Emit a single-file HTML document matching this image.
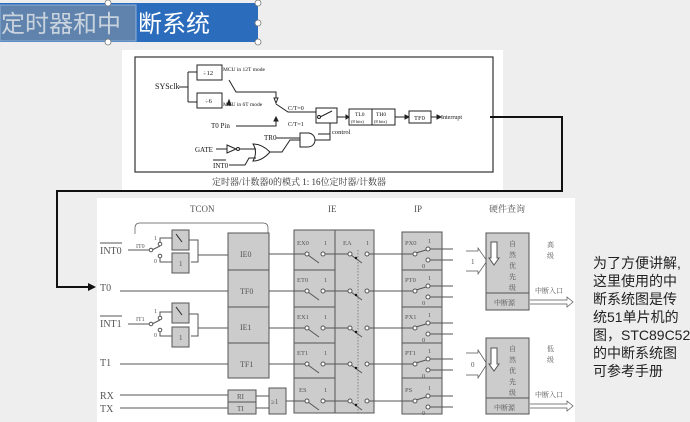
<!DOCTYPE html>
<html><head><meta charset="utf-8"><style>
html,body{margin:0;padding:0;width:690px;height:422px;overflow:hidden;background:#efeeef;}
svg{position:absolute;left:0;top:0;}
.t{font-family:"Liberation Serif","Noto Serif CJK SC",serif;}
</style></head><body>
<svg width="690" height="422" viewBox="0 0 690 422" xmlns="http://www.w3.org/2000/svg">
<rect x="0" y="3" width="258" height="39" fill="#2c6cbc"/>
<rect x="0" y="5" width="136" height="36" fill="#5f83ad" stroke="#8fb0d8" stroke-width="1"/>
<text x="1" y="32" font-family="'Liberation Sans','Noto Sans CJK SC',sans-serif" font-size="24" fill="#c9d3de">定时器和中</text>
<text x="138" y="32" font-family="'Liberation Sans','Noto Sans CJK SC',sans-serif" font-size="24" fill="#fff">断系统</text>
<g fill="#fff" stroke="#777" stroke-width="0.8"><circle cx="108" cy="3" r="3"/><circle cx="258" cy="3" r="3"/><circle cx="258" cy="23" r="3"/><circle cx="108" cy="42" r="3"/><circle cx="258" cy="42" r="3"/></g>

<rect x="122" y="50" width="381" height="140" fill="#fff"/>
<rect x="135" y="57" width="358" height="115" fill="none" stroke="#333" stroke-width="1.2"/>
<g class="t" font-size="6.5" fill="#111" stroke="#222" stroke-width="1">
<text x="155" y="89" font-size="8" stroke="none">SYSclk</text>
<path d="M179 87H188M188 72V102M188 72H197M188 102H197" fill="none"/>
<rect x="197" y="65" width="25" height="15" fill="#fff"/><text x="203" y="75" stroke="none">÷12</text>
<rect x="197" y="93" width="25" height="15" fill="#fff"/><text x="205" y="103" stroke="none">÷6</text>
<text x="223" y="71" stroke="none" font-size="5.5">MCU in 12T mode</text>
<text x="223" y="106" stroke="none" font-size="5.5">MCU in 6T mode</text>
<path d="M229 80L236 92L276 92V98M276 104L288 112H316M278 98l-2 5l-2-5z" fill="none"/>
<path d="M229 100l-2 5h4z" fill="#222"/>
<text x="211" y="128" stroke="none" font-size="7">T0 Pin</text>
<path d="M236 126H276V120" fill="none"/><path d="M276 117l-2 4h4z" fill="#222"/>
<text x="288" y="110" stroke="none" font-size="6">C/T=0</text><text x="288" y="126" stroke="none" font-size="6">C/T=1</text>
<rect x="316" y="108" width="21" height="15" fill="#fff"/>
<path d="M320 117L332 111M337 117H349" fill="none"/><circle cx="319" cy="117" r="1.5" fill="#fff"/>
<path d="M346 115l3 2l-3 2z" fill="#222"/>
<text x="332" y="134" stroke="none">control</text>
<path d="M330 123V134H318" fill="none"/>
<rect x="349" y="109" width="46" height="16" fill="#fff"/><path d="M372 109V125"/>
<text x="355" y="116" stroke="none" font-size="5.5">TL0</text><text x="376" y="116" stroke="none" font-size="5.5">TH0</text>
<text x="351" y="123" stroke="none" font-size="4.5">(8 bits)</text><text x="374" y="123" stroke="none" font-size="4.5">(8 bits)</text>
<path d="M395 117H409"/><path d="M405 115l4 2l-4 2z" fill="#222"/>
<rect x="409" y="111" width="22" height="12" fill="#fff"/><text x="414" y="120" stroke="none">TF0</text>
<path d="M431 117H440"/><path d="M437 115l4 2l-4 2z" fill="#222"/>
<text x="441" y="119" stroke="none" font-size="6">Interrupt</text>
<text x="264" y="140" stroke="none" font-size="7">TR0</text>
<path d="M276 138H300M300 133H308A7 7 0 0 1 308 147H300Z" fill="#fff"/>
<text x="195" y="152" stroke="none" font-size="7">GATE</text>
<path d="M216 149H227M227 145L236 149L227 153Z" fill="#fff"/><circle cx="238" cy="149" r="1.5" fill="#fff"/>
<path d="M240 149H256M253 144Q262 144 270 152Q262 161 253 161Q258 152 253 144Z" fill="#fff"/>
<text x="213" y="168" stroke="none" font-size="7">INT0</text><path d="M213 160H226"/>
<path d="M229 165H245L249 158H256M270 152H282L290 140H300M315 140H330V123" fill="none"/>
</g>
<text x="212" y="185" class="t" font-size="9" fill="#333">定时器/计数器0的模式 1: 16位定时器/计数器</text>

<path d="M490 117H562V191H57V287H88" fill="none" stroke="#111" stroke-width="2"/>
<path d="M96 287l-8-4v8z" fill="#111"/>

<rect x="97" y="198" width="478" height="224" fill="#fff"/>
<g class="t" fill="#555" stroke="#555" stroke-width="1" font-size="8">
<text x="190" y="212" stroke="none" font-size="9">TCON</text>
<text x="328" y="212" stroke="none" font-size="9">IE</text>
<text x="414" y="212" stroke="none" font-size="9">IP</text>
<text x="489" y="212" stroke="none" font-size="9" font-family="'Noto Serif CJK SC',serif">硬件查询</text>
<path d="M135 234V228Q135 223 140 223H263Q268 223 268 228V234" fill="none" stroke-width="0.7"/>
<text x="100" y="254" stroke="none" font-size="10">INT0</text><path d="M100 243H122"/>
<text x="100" y="291" stroke="none" font-size="10">T0</text>
<text x="100" y="327" stroke="none" font-size="10">INT1</text><path d="M100 316H122"/>
<text x="100" y="366" stroke="none" font-size="10">T1</text>
<text x="100" y="399" stroke="none" font-size="10">RX</text>
<text x="100" y="412" stroke="none" font-size="10">TX</text>
<g fill="none">
<path d="M128 250H150M152 250L160 246M160 244V238H172M160 255V262H172M189 240H198V262H191"/>
<circle cx="151" cy="250" r="1.8" fill="#fff"/><circle cx="160" cy="244" r="1.8" fill="#fff"/><circle cx="160" cy="256" r="1.8" fill="#fff"/>
<rect x="172" y="230" width="17" height="20" fill="#ccc"/><rect x="172" y="253" width="17" height="20" fill="#ccc"/>
<path d="M198 255H228"/>
<path d="M128 324H150M152 324L160 320M160 318V312H172M160 329V336H172M189 314H198V336H191"/>
<circle cx="151" cy="324" r="1.8" fill="#fff"/><circle cx="160" cy="318" r="1.8" fill="#fff"/><circle cx="160" cy="330" r="1.8" fill="#fff"/>
<rect x="172" y="303" width="17" height="20" fill="#ccc"/><rect x="172" y="327" width="17" height="20" fill="#ccc"/>
<path d="M198 328H228M120 291H228M120 364H228M120 395H228M120 408H228"/>
</g>
<text x="136" y="248" stroke="none" font-size="6">IT0</text><text x="136" y="321" stroke="none" font-size="6">IT1</text>
<text x="154" y="240" stroke="none" font-size="6">1</text><text x="154" y="263" stroke="none" font-size="6">0</text>
<text x="154" y="313" stroke="none" font-size="6">1</text><text x="154" y="337" stroke="none" font-size="6">0</text>
<text x="179" y="266" stroke="none" font-size="7">1</text><text x="179" y="340" stroke="none" font-size="7">1</text>
<path d="M176 234l6 8M176 307l6 8" stroke="#222"/>
<rect x="228" y="233" width="41" height="145" fill="#ccc"/>
<path d="M228 270H269M228 307H269M228 343H269"/>
<text x="240" y="257" stroke="none">IE0</text><text x="240" y="294" stroke="none">TF0</text>
<text x="240" y="330" stroke="none">IE1</text><text x="240" y="367" stroke="none">TF1</text>
<rect x="228" y="390" width="28" height="12" fill="#ccc"/><rect x="228" y="402" width="28" height="12" fill="#ccc"/>
<text x="237" y="399" stroke="none" font-size="7">RI</text><text x="237" y="411" stroke="none" font-size="7">TI</text>
<path d="M256 396H269M256 408H269" fill="none"/>
<rect x="269" y="388" width="17" height="26" fill="#ccc"/><text x="271" y="404" stroke="none" font-size="7">≥1</text>
<rect x="294" y="230" width="80" height="183" fill="#ccc"/>
<path d="M335 230V413M294 270H335M294 307H335M294 343H335M294 378H335" fill="none"/>
<path d="M358 250V413" stroke-dasharray="1.5 1.5" stroke-width="0.6"/>
<rect x="402" y="232" width="40" height="182" fill="#ccc"/>
<path d="M402 270H442M402 307H442M402 343H442M402 378H442" fill="none"/>
<g fill="none">
<path d="M269 254H305M269 291H305M269 328H305M269 364H305M286 401H305"/>
<path d="M325 254H348M325 291H348M325 328H348M325 364H348M325 401H348"/>
<path d="M369 254H413M369 291H413M369 328H413M369 364H413M369 401H413"/>
<path d="M308 255l11 8M308 292l11 8M308 329l11 8M308 365l11 8M308 402l11 8"/>
<path d="M351 255l11 8M351 292l11 8M351 329l11 8M351 365l11 8M351 402l11 8"/>
<path d="M416 253l10-3M416 290l10-3M416 327l10-3M416 363l10-3M416 400l10-3"/>
<path d="M430 249H453M430 260H453M430 286H453M430 297H453M430 323H453M430 334H453M430 359H453M430 370H453M430 396H453M430 407H453"/>
</g>
<g fill="#fff">
<circle cx="307" cy="254" r="2"/><circle cx="323" cy="254" r="2"/><circle cx="350" cy="254" r="2"/><circle cx="367" cy="254" r="2"/><circle cx="415" cy="254" r="2"/><circle cx="428" cy="249" r="2"/><circle cx="428" cy="260" r="2"/>
<circle cx="307" cy="291" r="2"/><circle cx="323" cy="291" r="2"/><circle cx="350" cy="291" r="2"/><circle cx="367" cy="291" r="2"/><circle cx="415" cy="291" r="2"/><circle cx="428" cy="286" r="2"/><circle cx="428" cy="297" r="2"/>
<circle cx="307" cy="328" r="2"/><circle cx="323" cy="328" r="2"/><circle cx="350" cy="328" r="2"/><circle cx="367" cy="328" r="2"/><circle cx="415" cy="328" r="2"/><circle cx="428" cy="323" r="2"/><circle cx="428" cy="334" r="2"/>
<circle cx="307" cy="364" r="2"/><circle cx="323" cy="364" r="2"/><circle cx="350" cy="364" r="2"/><circle cx="367" cy="364" r="2"/><circle cx="415" cy="364" r="2"/><circle cx="428" cy="359" r="2"/><circle cx="428" cy="370" r="2"/>
<circle cx="307" cy="401" r="2"/><circle cx="323" cy="401" r="2"/><circle cx="350" cy="401" r="2"/><circle cx="367" cy="401" r="2"/><circle cx="415" cy="401" r="2"/><circle cx="428" cy="396" r="2"/><circle cx="428" cy="407" r="2"/>
</g>
<circle cx="356" cy="258" r="1.2" fill="#111" stroke="none"/><circle cx="356" cy="295" r="1.2" fill="#111" stroke="none"/><circle cx="356" cy="332" r="1.2" fill="#111" stroke="none"/><circle cx="356" cy="368" r="1.2" fill="#111" stroke="none"/><circle cx="356" cy="405" r="1.2" fill="#111" stroke="none"/>
<g stroke="none" font-size="6.5">
<text x="297" y="245">EX0</text><text x="297" y="282">ET0</text><text x="297" y="319">EX1</text><text x="297" y="355">ET1</text><text x="299" y="392">ES</text>
<text x="324" y="245">1</text><text x="324" y="282">1</text><text x="324" y="319">1</text><text x="324" y="355">1</text><text x="324" y="392">1</text>
<text x="343" y="245">EA</text><text x="366" y="245">1</text>
<text x="405" y="245">PX0</text><text x="405" y="282">PT0</text><text x="405" y="319">PX1</text><text x="405" y="355">PT1</text><text x="405" y="392">PS</text>
<text x="428" y="243">1</text><text x="428" y="280">1</text><text x="428" y="317">1</text><text x="428" y="353">1</text><text x="428" y="390">1</text>
<text x="422" y="268">0</text><text x="422" y="305">0</text><text x="422" y="342">0</text><text x="422" y="378">0</text><text x="422" y="415">0</text>
</g>
<path d="M466 251H478V248L487 261L478 274V271H466" fill="#fff" stroke-width="0.7"/><text x="471" y="264" stroke="none" font-size="7">1</text>
<path d="M466 353H478V350L487 364L478 378V375H466" fill="#fff" stroke-width="0.7"/><text x="471" y="367" stroke="none" font-size="7">0</text>
<rect x="486" y="233" width="43" height="77" fill="#ccc"/><path d="M486 293H529"/>
<rect x="486" y="338" width="43" height="76" fill="#ccc"/><path d="M486 398H529"/>
<path d="M491 242H497V258H499L494 265L489 258H491Z" fill="#fff"/>
<path d="M491 348H497V364H499L494 371L489 364H491Z" fill="#fff"/>
<g stroke="none" font-size="7" font-family="'Noto Serif CJK SC',serif">
<text x="509" y="246">自</text><text x="509" y="257">然</text><text x="509" y="268">优</text><text x="509" y="279">先</text><text x="509" y="290">级</text>
<text x="494" y="305">中断源</text>
<text x="509" y="351">自</text><text x="509" y="362">然</text><text x="509" y="373">优</text><text x="509" y="384">先</text><text x="509" y="395">级</text>
<text x="494" y="410">中断源</text>
<text x="547" y="247">高</text><text x="547" y="258">级</text>
<text x="547" y="351">低</text><text x="547" y="362">级</text>
<text x="535" y="293">中断入口</text><text x="535" y="397">中断入口</text>
</g>
<path d="M530 300H567V297L573 302L567 307V304H530" fill="none" stroke-width="0.7"/>
<path d="M530 404H567V401L573 406L567 411V408H530" fill="none" stroke-width="0.7"/>
</g>

<g font-family="'Liberation Sans','Noto Sans CJK SC',sans-serif" font-size="14" fill="#222">
<text x="593" y="268">为了方便讲解,</text>
<text x="593" y="286">这里使用的中</text>
<text x="593" y="304">断系统图是传</text>
<text x="593" y="322">统51单片机的</text>
<text x="593" y="340">图，STC89C52</text>
<text x="593" y="358">的中断系统图</text>
<text x="593" y="376">可参考手册</text>
</g>
</svg>
</body></html>
